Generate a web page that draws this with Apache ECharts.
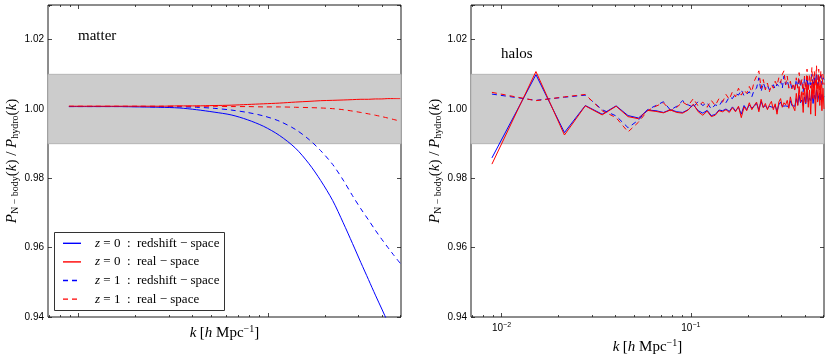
<!DOCTYPE html>
<html>
<head>
<meta charset="utf-8">
<script src="https://cdn.jsdelivr.net/npm/echarts@6/dist/echarts.min.js"></script>
<style>
  html, body { margin: 0; padding: 0; background: #fff; }
  #chart { width: 830px; height: 356px; }
</style>
</head>
<body>
<div id="chart"></div>
<script>
// ---- data ----
const seriesNames = ['z0 redshift', 'z0 real', 'z1 redshift', 'z1 real'];
const legendLabels = [
  '{it|z} = 0  :  redshift − space',
  '{it|z} = 0  :  real − space',
  '{it|z} = 1  :  redshift − space',
  '{it|z} = 1  :  real − space'
];

// left panel: matter
const kMatter = [0.0089, 0.012, 0.016, 0.021, 0.027, 0.034, 0.042, 0.052, 0.064, 0.078, 0.095, 0.115,
  0.14, 0.165, 0.19, 0.22, 0.25, 0.28, 0.31, 0.34, 0.37, 0.40, 0.43, 0.46, 0.50];
const matterZ0Redshift = [1.0007, 1.0007, 1.0007, 1.0006, 1.0005, 1.0003, 0.9998, 0.9991, 0.9983, 0.9969, 0.9950, 0.9924,
  0.9887, 0.9842, 0.9794, 0.9736, 0.9672, 0.9612, 0.9557, 0.9508, 0.9463, 0.9423, 0.9385, 0.9350, 0.9306];
const matterZ0Real = [1.0008, 1.0008, 1.0008, 1.0008, 1.0008, 1.0009, 1.0009, 1.0010, 1.0011, 1.0013, 1.0015, 1.0017,
  1.0020, 1.0022, 1.0024, 1.0025, 1.0026, 1.0027, 1.0028, 1.0028, 1.0029, 1.0029, 1.0030, 1.0030, 1.0030];
const matterZ1Redshift = [1.0007, 1.0007, 1.0007, 1.0007, 1.0006, 1.0006, 1.0005, 1.0002, 0.9997, 0.9990, 0.9980, 0.9965,
  0.9941, 0.9912, 0.9880, 0.9840, 0.9795, 0.9750, 0.9712, 0.9680, 0.9650, 0.9624, 0.9601, 0.9580, 0.9555];
const matterZ1Real = [1.0008, 1.0008, 1.0008, 1.0008, 1.0008, 1.0008, 1.0008, 1.0008, 1.0007, 1.0007, 1.0006, 1.0006,
  1.0005, 1.0004, 1.0003, 1.0001, 0.9998, 0.9994, 0.9990, 0.9986, 0.9982, 0.9978, 0.9974, 0.9970, 0.9965];

// right panel: halos
const kHalos = [0.0089, 0.0152, 0.0215, 0.0277, 0.0340, 0.0403, 0.0466, 0.0529, 0.0591, 0.0654,
  0.0717, 0.0780, 0.0843, 0.0905, 0.0968, 0.1031, 0.1094, 0.1157, 0.1219, 0.1282,
  0.1345, 0.1408, 0.1471, 0.1533, 0.1596, 0.1659, 0.1722, 0.1785, 0.1847, 0.1910,
  0.1973, 0.2036, 0.2099, 0.2161, 0.2224, 0.2287, 0.2350, 0.2413, 0.2475, 0.2538,
  0.2601, 0.2664, 0.2727, 0.2789, 0.2852, 0.2915, 0.2978, 0.3041, 0.3103, 0.3166,
  0.3229, 0.3292, 0.3355, 0.3417, 0.3480, 0.3543, 0.3606, 0.3669, 0.3731, 0.3794,
  0.3857, 0.3920, 0.3983, 0.4045, 0.4108, 0.4171, 0.4234, 0.4297, 0.4359, 0.4422,
  0.4485, 0.4548, 0.4611, 0.4673, 0.4736, 0.4799, 0.4862, 0.4925, 0.4987, 0.5050];
const halosZ0Redshift = [0.9859, 1.0099, 0.9932, 1.0010, 0.9985, 1.0009, 0.9981, 0.9974, 0.9997, 0.9995,
  0.9990, 0.9998, 0.9992, 0.9990, 0.9998, 1.0012, 0.9995, 0.9988, 0.9996, 0.9981,
  0.9984, 0.9997, 0.9995, 1.0000, 0.9993, 1.0006, 0.9995, 1.0005, 0.9985, 1.0010,
  0.9998, 1.0012, 1.0003, 1.0008, 1.0016, 0.9998, 1.0022, 1.0005, 1.0010, 1.0001,
  1.0008, 1.0013, 1.0004, 1.0010, 0.9993, 1.0012, 1.0020, 1.0008, 1.0011, 1.0009,
  1.0013, 1.0007, 1.0024, 1.0010, 1.0014, 1.0008, 1.0030, 1.0012, 1.0040, 1.0018,
  1.0026, 1.0010, 1.0035, 1.0015, 1.0048, 1.0020, 1.0032, 1.0024, 1.0050, 1.0016,
  1.0040, 1.0028, 1.0055, 1.0022, 1.0038, 1.0046, 1.0026, 1.0042, 1.0030, 1.0036];
const halosZ0Real = [0.9841, 1.0108, 0.9925, 1.0009, 0.9983, 1.0008, 0.9978, 0.9972, 0.9996, 0.9993,
  0.9989, 0.9997, 0.9990, 0.9988, 0.9997, 1.0014, 0.9992, 0.9982, 0.9994, 0.9978,
  0.9982, 0.9995, 0.9992, 0.9998, 0.9990, 1.0004, 0.9992, 1.0008, 0.9975, 1.0006,
  0.9995, 1.0018, 0.9998, 1.0010, 1.0020, 0.9992, 1.0028, 1.0004, 1.0016, 0.9998,
  1.0012, 1.0022, 0.9998, 1.0015, 0.9985, 1.0020, 1.0030, 1.0005, 1.0018, 1.0012,
  1.0025, 1.0002, 1.0035, 1.0015, 1.0020, 0.9995, 1.0045, 1.0010, 1.0065, 1.0020,
  1.0050, 0.9990, 1.0060, 1.0018, 1.0080, 1.0005, 1.0055, 0.9985, 1.0075, 1.0030,
  1.0090, 0.9980, 1.0085, 1.0020, 1.0095, 1.0010, 1.0070, 0.9995, 1.0060, 1.0000];
const halosZ1Redshift = [1.0043, 1.0025, 1.0034, 1.0040, 0.9998, 0.9980, 0.9946, 0.9968, 0.9998, 1.0010,
  1.0021, 0.9997, 1.0008, 1.0024, 1.0012, 1.0005, 1.0022, 1.0010, 1.0018, 1.0000,
  1.0012, 1.0008, 1.0025, 1.0018, 1.0035, 1.0030, 1.0045, 1.0040, 1.0055, 1.0038,
  1.0042, 1.0050, 1.0035, 1.0055, 1.0060, 1.0090, 1.0050, 1.0075, 1.0060, 1.0068,
  1.0055, 1.0062, 1.0070, 1.0058, 1.0072, 1.0065, 1.0080, 1.0060, 1.0095, 1.0070,
  1.0082, 1.0065, 1.0075, 1.0060, 1.0070, 1.0055, 1.0085, 1.0062, 1.0090, 1.0068,
  1.0078, 1.0050, 1.0088, 1.0065, 1.0095, 1.0060, 1.0082, 1.0070, 1.0100, 1.0062,
  1.0090, 1.0075, 1.0105, 1.0068, 1.0092, 1.0080, 1.0098, 1.0070, 1.0090, 1.0085];
const halosZ1Real = [1.0048, 1.0024, 1.0035, 1.0042, 0.9995, 0.9975, 0.9934, 0.9962, 0.9995, 1.0008,
  1.0018, 0.9995, 1.0005, 1.0020, 1.0010, 1.0030, 1.0008, 1.0020, 1.0005, 1.0025,
  1.0010, 1.0030, 1.0020, 1.0042, 1.0028, 1.0050, 1.0035, 1.0060, 1.0040, 1.0055,
  1.0045, 1.0065, 1.0050, 1.0080, 1.0095, 1.0110, 1.0060, 1.0085, 1.0055, 1.0075,
  1.0050, 1.0070, 1.0060, 1.0080, 1.0068, 1.0090, 1.0075, 1.0100, 1.0110, 1.0070,
  1.0095, 1.0060, 1.0080, 1.0058, 1.0075, 1.0050, 1.0090, 1.0060, 1.0105, 1.0065,
  1.0085, 1.0040, 1.0095, 1.0055, 1.0115, 1.0050, 1.0100, 1.0060, 1.0120, 1.0045,
  1.0110, 1.0065, 1.0125, 1.0040, 1.0115, 1.0055, 1.0110, 1.0060, 1.0100, 1.0070];

// axes
const kMajorTicks = [0.01, 0.1];
const kMinorTicks = [0.007, 0.008, 0.009, 0.02, 0.03, 0.04, 0.05, 0.06, 0.07, 0.08, 0.09,
  0.2, 0.3, 0.4, 0.5];
const kMin = 0.0069, kMax = 0.505;
const ratioMin = 0.94, ratioMax = 1.03, ratioStep = 0.02;
const bandLow = 0.99, bandHigh = 1.01;

// ---- chart ----
const chart = echarts.init(document.getElementById('chart'), null, { renderer: 'canvas' });

const serif = 'Liberation Serif';
const sans = 'Liberation Sans';
const frameColor = '#1a1a1a';
const colors = ['#0000ff', '#ff0000', '#0000ff', '#ff0000'];
const dashed = [false, false, true, true];
const dashPattern = [5, 4];

const grids = [
  { left: 48, right: 429, top: 5, bottom: 39, containLabel: false, outerBoundsMode: 'none',
    show: true, borderColor: frameColor, borderWidth: 1 },
  { left: 471, right: 6, top: 5, bottom: 39, containLabel: false, outerBoundsMode: 'none',
    show: true, borderColor: frameColor, borderWidth: 1 }
];

const xName = '{it|k} {n|[}{it|h}{n| Mpc}{sup|−1}{n|]}';
const nameRich = {
  it: { fontFamily: serif, fontStyle: 'italic', fontSize: 15, lineHeight: 18, color: '#000' },
  n: { fontFamily: serif, fontSize: 15, lineHeight: 18, color: '#000' },
  sup: { fontFamily: serif, fontSize: 10, lineHeight: 18, verticalAlign: 'top', color: '#000' },
  sub: { fontFamily: serif, fontSize: 10, lineHeight: 18, verticalAlign: 'bottom', color: '#000' }
};
const yName = '{it|P}{sub|N − body}{n|(}{it|k}{n|) / }{it|P}{sub|hydro}{n|(}{it|k}{n|)}';

function kAxis(g, pos, ticks, len, withLabels) {
  return {
    type: 'log', gridIndex: g, position: pos, min: kMin, max: kMax,
    axisLine: { show: false },
    splitLine: { show: false },
    axisTick: { show: true, inside: true, length: len, customValues: ticks, lineStyle: { color: frameColor, width: 0.8 } },
    axisLabel: {
      show: withLabels, customValues: ticks, margin: 5,
      formatter: v => '{n|10}{sup|−' + Math.round(-Math.log10(v)) + '}',
      rich: {
        n: { fontFamily: sans, fontSize: 10, color: '#000' },
        sup: { fontFamily: sans, fontSize: 7, verticalAlign: 'top', color: '#000', padding: [0, 0, 6, 0] }
      }
    }
  };
}

const xAxes = [];
const yAxes = [];
[0, 1].forEach(g => {
  const bottom = kAxis(g, 'bottom', kMajorTicks, 4, g === 1);
  bottom.name = xName;
  bottom.nameLocation = 'middle';
  bottom.nameGap = g === 1 ? 13 : 7;
  bottom.nameTextStyle = { rich: nameRich, verticalAlign: 'top' };
  xAxes.push(bottom,
    kAxis(g, 'bottom', kMinorTicks, 2, false),
    kAxis(g, 'top', kMajorTicks, 4, false),
    kAxis(g, 'top', kMinorTicks, 2, false));
  ['left', 'right'].forEach(pos => {
    yAxes.push({
      type: 'value', gridIndex: g, position: pos,
      min: ratioMin, max: ratioMax, interval: ratioStep,
      axisLine: { show: false },
      splitLine: { show: false },
      axisTick: { show: true, inside: true, length: 4, lineStyle: { color: frameColor, width: 0.8 } },
      axisLabel: {
        show: pos === 'left', margin: 4, fontFamily: sans, fontSize: 10, color: '#000',
        formatter: v => Math.abs(v / ratioStep - Math.round(v / ratioStep)) < 1e-6 ? v.toFixed(2) : ''
      },
      name: pos === 'left' ? yName : '',
      nameLocation: 'middle', nameGap: 26, nameRotate: 90,
      nameTextStyle: { rich: nameRich }
    });
  });
});

const matterData = [matterZ0Redshift, matterZ0Real, matterZ1Redshift, matterZ1Real];
const halosData = [halosZ0Redshift, halosZ0Real, halosZ1Redshift, halosZ1Real];

const series = [];
[[kMatter, matterData], [kHalos, halosData]].forEach(([ks, sets], g) => {
  sets.forEach((vals, i) => {
    const s = {
      name: seriesNames[i], type: 'line',
      xAxisIndex: g * 4, yAxisIndex: g * 2,
      data: ks.map((k, j) => [k, vals[j]]),
      showSymbol: false, symbol: 'none',
      smooth: g === 0 ? 0.3 : false,
      clip: true,
      lineStyle: { color: colors[i], width: 1, type: dashed[i] ? dashPattern : 'solid' },
      itemStyle: { color: colors[i] },
      z: 3
    };
    if (i === 0) {
      s.markArea = {
        silent: true,
        itemStyle: { color: '#cccccc', borderColor: '#b5b5b5', borderWidth: 1 },
        data: [[{ yAxis: bandLow }, { yAxis: bandHigh }]]
      };
    }
    series.push(s);
  });
});

// legend box drawn as a graphic group (matplotlib-style frame, line samples, math labels)
const legendBox = { x: 54.5, y: 232.5, w: 170, h: 78, rowTop: 243.3, rowStep: 18.6 };
const legendChildren = [{
  type: 'rect',
  shape: { x: legendBox.x, y: legendBox.y, width: legendBox.w, height: legendBox.h },
  style: { fill: '#ffffff', stroke: '#333333', lineWidth: 1 }
}];
seriesNames.forEach((name, i) => {
  const y = legendBox.rowTop + i * legendBox.rowStep;
  legendChildren.push({
    type: 'line',
    shape: { x1: 63, y1: y, x2: 81, y2: y },
    style: { stroke: colors[i], lineWidth: 1.4, lineDash: dashed[i] ? [5, 4] : null }
  });
  legendChildren.push({
    type: 'text', x: 95, y: y,
    style: {
      text: legendLabels[i], verticalAlign: 'middle', align: 'left',
      font: '13px "Liberation Serif"', fill: '#000',
      rich: {
        it: { fontFamily: serif, fontStyle: 'italic', fontSize: 13, fill: '#000' }
      }
    }
  });
});

const option = {
  animation: false,
  backgroundColor: '#ffffff',
  title: [
    { text: 'matter', left: 78, top: 29, padding: 0, textStyle: { fontFamily: serif, fontSize: 15, fontWeight: 'normal', color: '#000' } },
    { text: 'halos', left: 501, top: 47, padding: 0, textStyle: { fontFamily: serif, fontSize: 15, fontWeight: 'normal', color: '#000' } }
  ],
  grid: grids,
  xAxis: xAxes,
  yAxis: yAxes,
  series: series,
  graphic: [{ type: 'group', silent: true, z: 100, children: legendChildren }]
};

chart.setOption(option);
</script>
</body>
</html>
